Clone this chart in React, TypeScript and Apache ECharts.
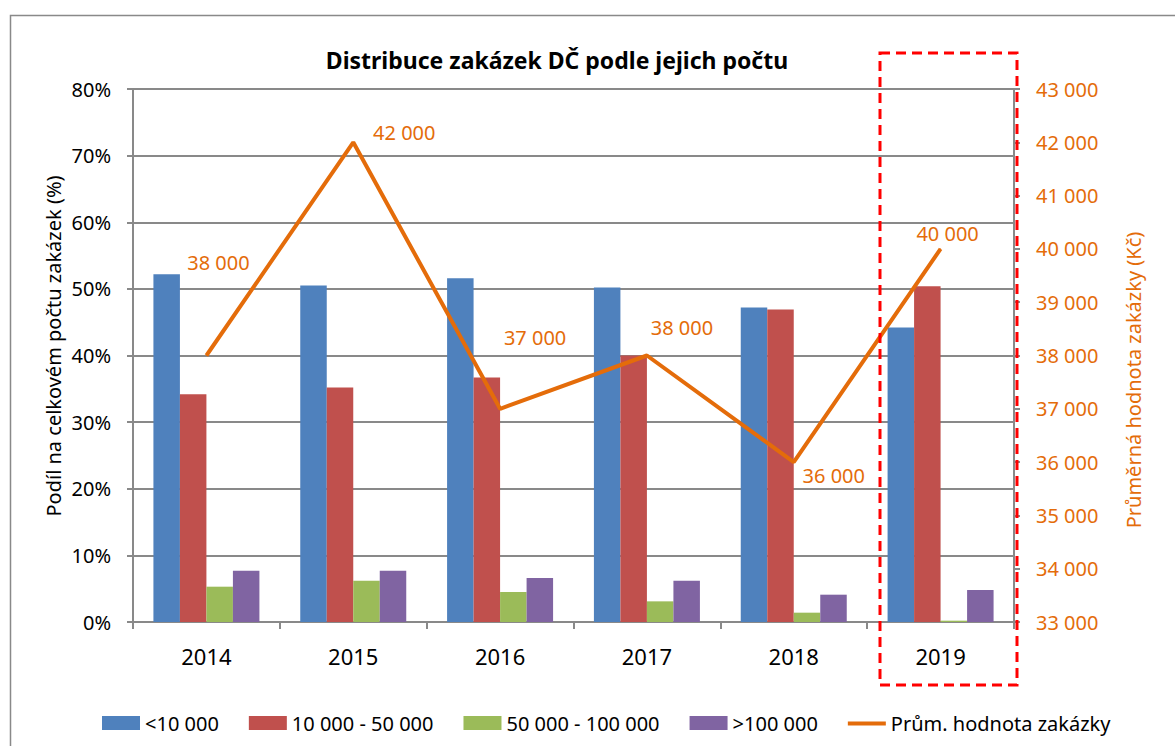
import React, { useEffect, useRef } from "react";
import * as echarts from "echarts";

const years = ["2014", "2015", "2016", "2017", "2018", "2019"];
const under10k = [52.2, 50.5, 51.6, 50.2, 47.2, 44.2];
const from10kTo50k = [34.2, 35.2, 36.7, 40.0, 46.9, 50.4];
const from50kTo100k = [5.3, 6.2, 4.5, 3.1, 1.4, 0.2];
const over100k = [7.7, 7.7, 6.6, 6.2, 4.1, 4.8];
const avgValue = [38000, 42000, 37000, 38000, 36000, 40000];

const seriesNames = ["<10 000", "10 000 - 50 000", "50 000 - 100 000", ">100 000", "Prům. hodnota zakázky"];
const labelOffsets = [[12, -93], [51, -10], [35, -71], [35, -28], [40, 13], [7, -15]];

const FONT = "'Noto Sans', sans-serif";
const ORANGE = "#E46C0A";
const GRAY = "#898989";

const fmtThousands = (v: number) => String(v).replace(/\B(?=(\d{3})+(?!\d))/g, " ");

export default function App() {
  const ref = useRef<HTMLDivElement>(null);
  useEffect(() => {
    if (!ref.current) return;
    const chart = echarts.init(ref.current, undefined, { renderer: "svg" });
    const barBase = {
      type: "bar" as const,
      barWidth: 26.5,
      barGap: "0%",
      yAxisIndex: 0,
    };
    chart.setOption({
      animation: false,
      backgroundColor: "#fff",
      textStyle: { fontFamily: FONT },
      title: {
        text: "Distribuce zakázek DČ podle jejich počtu",
        left: 552,
        textAlign: "center",
        top: 43,
        textStyle: { fontFamily: FONT, fontSize: 23, fontWeight: "bold", color: "#000" },
      },
      grid: { left: 133, right: 161, top: 89, bottom: 124, containLabel: false },
      legend: {
        left: 97,
        top: 708,
        itemWidth: 38,
        itemHeight: 14,
        itemGap: 30,
        textStyle: { fontFamily: FONT, fontSize: 20, color: "#000", padding: [0, 0, 0, 0] },
        data: seriesNames.map((n) => ({
          name: n,
          icon: n === seriesNames[4] ? "path://M0 0 M0 5.5 H38 V9.5 H0 Z M38 14" : "rect",
        })),
      },
      xAxis: {
        type: "category",
        data: years,
        boundaryGap: true,
        axisLine: { lineStyle: { color: GRAY, width: 2 } },
        axisTick: { show: true, length: 7, lineStyle: { color: GRAY, width: 2 } },
        axisLabel: { color: "#000", fontSize: 22, fontFamily: FONT, margin: 23 },
      },
      yAxis: [
        {
          type: "value",
          min: 0,
          max: 80,
          interval: 10,
          position: "left",
          axisLine: { show: true, lineStyle: { color: GRAY, width: 2 } },
          axisTick: { show: true, length: 6, lineStyle: { color: GRAY, width: 2 } },
          axisLabel: { color: "#000", fontSize: 20, fontFamily: FONT, margin: 22, formatter: "{value}%" },
          splitLine: { show: true, lineStyle: { color: GRAY, width: 2 } },
        },
        {
          type: "value",
          min: 33000,
          max: 43000,
          interval: 1000,
          position: "right",
          axisLine: { show: true, lineStyle: { color: GRAY, width: 2 } },
          axisTick: { show: true, length: 6, lineStyle: { color: GRAY, width: 2 } },
          axisLabel: { color: ORANGE, fontSize: 20, fontFamily: FONT, margin: 22, formatter: (v: number) => fmtThousands(v) },
          splitLine: { show: false },
        },
      ],
      series: [
        { ...barBase, name: seriesNames[0], data: under10k, itemStyle: { color: "#4F81BD" } },
        { ...barBase, name: seriesNames[1], data: from10kTo50k, itemStyle: { color: "#C0504D" } },
        { ...barBase, name: seriesNames[2], data: from50kTo100k, itemStyle: { color: "#9BBB59" } },
        { ...barBase, name: seriesNames[3], data: over100k, itemStyle: { color: "#8064A2" } },
        {
          type: "line",
          name: seriesNames[4],
          yAxisIndex: 1,
          symbol: "circle",
          symbolSize: 1,
          showSymbol: true,
          lineStyle: { color: ORANGE, width: 4 },
          itemStyle: { color: ORANGE },
          data: avgValue.map((v, i) => ({
            value: v,
            label: {
              show: true,
              position: "inside",
              offset: labelOffsets[i],
              color: ORANGE,
              fontSize: 20,
              fontFamily: FONT,
              formatter: () => fmtThousands(v),
            },
          })),
          z: 5,
        },
      ],
      graphic: [
        {
          type: "rect",
          left: 8,
          top: 13,
          shape: { x: 0, y: 0, width: 1300, height: 900 },
          style: { fill: "none", stroke: GRAY, lineWidth: 1.5 },
          silent: true,
          z: -10,
        },
        {
          type: "rect",
          shape: { x: 880, y: 53, width: 137, height: 632 },
          style: { fill: "none", stroke: "#FF0000", lineWidth: 3, lineDash: [10, 6] },
          silent: true,
          z: 100,
        },
        {
          type: "text",
          x: 53,
          y: 346,
          rotation: Math.PI / 2,
          style: {
            text: "Podíl na celkovém počtu zakázek (%)",
            font: `20px ${FONT}`,
            fill: "#000",
            align: "center",
            verticalAlign: "middle",
          },
        },
        {
          type: "text",
          x: 1133,
          y: 380,
          rotation: Math.PI / 2,
          style: {
            text: "Průměrná hodnota zakázky (Kč)",
            font: `20px ${FONT}`,
            fill: ORANGE,
            align: "center",
            verticalAlign: "middle",
          },
        },
      ],
    });
    return () => chart.dispose();
  }, []);
  return (
    <div
      ref={ref}
      style={{ position: "fixed", left: 0, top: 0, width: 1175, height: 746 }}
    />
  );
}
